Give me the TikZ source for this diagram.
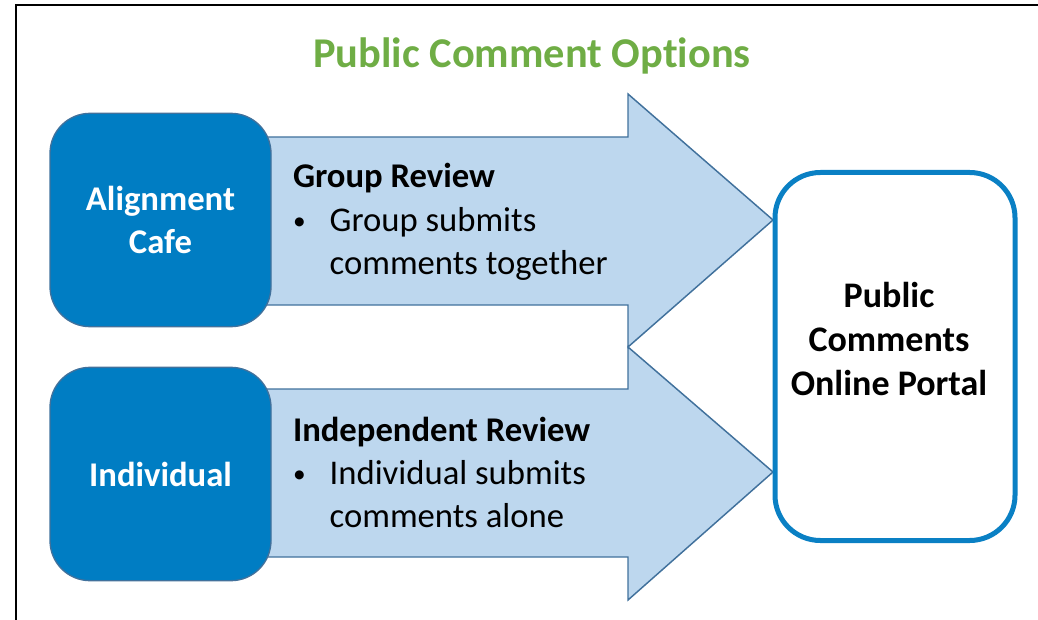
\documentclass[tikz,border=0pt]{standalone}
\usepackage{fontspec}
\setmainfont[Ligatures={NoCommon}]{Carlito}
\definecolor{titlegreen}{HTML}{6FAD45}
\definecolor{boxblue}{HTML}{007DC3}
\definecolor{edgeblue}{HTML}{41719C}
\definecolor{arrowfill}{HTML}{BDD7EE}
\definecolor{portalblue}{HTML}{0A80C4}
\newcommand{\bodysize}{\fontsize{26}{32.6}\selectfont}
\newcommand{\smallbullet}{\makebox[27.5pt][l]{\raisebox{1.8pt}{\fontsize{19}{19}\selectfont\textbullet}}}

\begin{document}
\begin{tikzpicture}[x=0.75pt,y=-0.75pt,
  every node/.style={inner sep=0pt, outer sep=0pt},
  sidebox/.style={fill=boxblue, draw=edgeblue, line width=1pt, rounded corners=30pt,
    minimum width=165.75pt, minimum height=160pt, text=white, font=\bodysize\bfseries, align=center},
  bigarrow/.style={fill=arrowfill, draw=edgeblue, line width=1.1pt, line join=miter},
  reviewtext/.style={anchor=base west, font=\bodysize}]
\useasboundingbox (0,0) rectangle (1038,620);
\draw[line width=2.2pt] (16,640) -- (16,5) -- (1060,5);

\node[font=\fontsize{31.8}{38}\selectfont\bfseries, text=titlegreen, anchor=base] (title) at (532,68) {Public Comment Options};

\draw[bigarrow] (220,137) -- (628,137) -- (628,94) -- (773,220) -- (628,347) -- (628,305) -- (220,305) -- cycle;
\draw[bigarrow] (220,389) -- (628,389) -- (628,347) -- (773,472) -- (628,600) -- (628,557) -- (220,557) -- cycle;

\node[sidebox] (cafe) at (160.5,220) {Alignment\\Cafe};
\node[sidebox] (individual) at (160.5,474) {Individual};

\node[reviewtext] (group) at (293,188) {\begin{tabular}[t]{@{}l@{}l@{}}
  \multicolumn{2}{@{}l@{}}{\textbf{Group Review}}\\
  \smallbullet & Group submits\\
  & comments together
\end{tabular}};
\node[reviewtext] (independent) at (293,441) {\begin{tabular}[t]{@{}l@{}l@{}}
  \multicolumn{2}{@{}l@{}}{\textbf{Independent Review}}\\
  \smallbullet & Individual submits\\
  & comments alone
\end{tabular}};

\node[draw=portalblue, line width=3.75pt, rounded corners=34pt, minimum width=180pt, minimum height=276pt] (portal) at (895,356.5) {};
\node[font=\fontsize{27}{33}\selectfont\bfseries, align=center] (portaltext) at (889,339) {Public\\Comments\\Online Portal};
\end{tikzpicture}
\end{document}
